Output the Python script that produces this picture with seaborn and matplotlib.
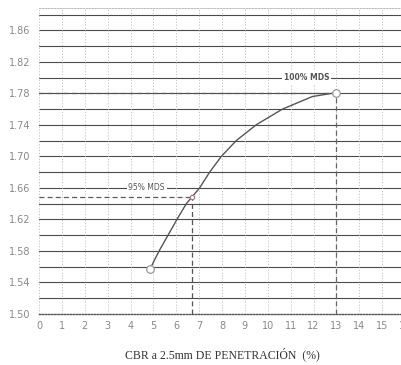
import matplotlib
matplotlib.use("Agg")
import matplotlib.pyplot as plt
import seaborn as sns
import pandas as pd

# Density vs CBR curve
cbr = [4.85, 5.25, 5.64, 6.03, 6.44, 7.02, 7.46, 7.97, 8.62, 9.49, 10.64, 11.95, 13.0]
density = [1.557, 1.58, 1.60, 1.62, 1.64, 1.66, 1.68, 1.70, 1.72, 1.74, 1.76, 1.776, 1.781]

# Reference points: 100% and 95% of max dry density
mds100_cbr, mds100_density = 13.0, 1.781
mds95_cbr, mds95_density = 6.7, 1.648

x_ticks = list(range(0, 17))
y_ticks = [1.50, 1.54, 1.58, 1.62, 1.66, 1.70, 1.74, 1.78, 1.82, 1.86]
y_grid = [1.50 + 0.02 * i for i in range(20)]

sns.set_style("white")
fig = plt.figure(figsize=(4.01, 3.65), dpi=100)
ax = fig.add_axes([39 / 401, 51 / 365, 366 / 401, 306.5 / 365])

curve = pd.DataFrame({"cbr": cbr, "density": density})
sns.lineplot(data=curve, x="cbr", y="density", ax=ax, color="#555555",
             linewidth=1.0, zorder=5)

# horizontal grid every 0.02, vertical dotted grid every 1
for yv in y_grid[1:]:
    ax.axhline(yv, color="#4a4a4a", linewidth=0.8, zorder=1)
for xv in x_ticks:
    ax.axvline(xv, color="#bbbbbb", linewidth=0.6, linestyle=(0, (1.5, 2)), zorder=1)

# dashed guide lines
ax.plot([0, mds100_cbr], [mds100_density, mds100_density], color="#555555",
        linewidth=0.9, linestyle=(0, (4, 2.5)), zorder=4)
ax.plot([mds100_cbr, mds100_cbr], [1.50, mds100_density], color="#666666",
        linewidth=0.9, linestyle=(0, (4, 2.5)), zorder=4)
ax.plot([0, mds95_cbr], [mds95_density, mds95_density], color="#6a5555",
        linewidth=0.9, linestyle=(0, (4, 2.5)), zorder=4)
ax.plot([mds95_cbr, mds95_cbr], [1.50, mds95_density], color="#555555",
        linewidth=0.9, linestyle=(0, (4, 2.5)), zorder=4)

pts = pd.DataFrame({"cbr": [cbr[0], mds100_cbr], "density": [density[0], mds100_density]})
sns.scatterplot(data=pts, x="cbr", y="density", ax=ax, s=30, facecolor="white",
                edgecolor="#999999", linewidth=0.9, zorder=6)
ax.scatter([mds95_cbr], [mds95_density], s=10, facecolor="white",
           edgecolor="#b07070", linewidth=0.8, zorder=6)

box = dict(boxstyle="square,pad=0.25", facecolor="white", edgecolor="none")
ax.text(11.69, 1.80, "100% MDS", ha="center", va="center", fontsize=5.5,
        fontweight="bold", color="#555555", bbox=box, zorder=7)
ax.text(4.71, 1.66, "95% MDS", ha="center", va="center", fontsize=5.5,
        color="#555555", bbox=box, zorder=7)

ax.set_xlim(0, 16)
ax.set_ylim(1.50, 1.889)
ax.set_xticks(x_ticks)
ax.set_yticks(y_ticks)
ax.set_xticklabels([str(v) for v in x_ticks])
ax.set_yticklabels([f"{v:.2f}" for v in y_ticks])
ax.tick_params(axis="both", labelsize=7, colors="#888888", length=3, width=0.6)
ax.tick_params(axis="x", length=0, pad=5)
ax.tick_params(axis="y", pad=3)

for side in ["left", "right"]:
    ax.spines[side].set_visible(False)
ax.spines["top"].set_color("#bbbbbb")
ax.spines["top"].set_linestyle((0, (1.5, 1.5)))
ax.spines["top"].set_linewidth(0.7)
ax.spines["bottom"].set_color("#555555")
ax.spines["bottom"].set_linestyle((0, (1, 1.2)))
ax.spines["bottom"].set_linewidth(1.0)

ax.set_xlabel("CBR a 2.5mm DE PENETRACIÓN  (%)", fontsize=8.5,
              family="Liberation Serif", color="#333333", labelpad=12)
ax.set_ylabel("")

fig.savefig("out.png", dpi=100)
